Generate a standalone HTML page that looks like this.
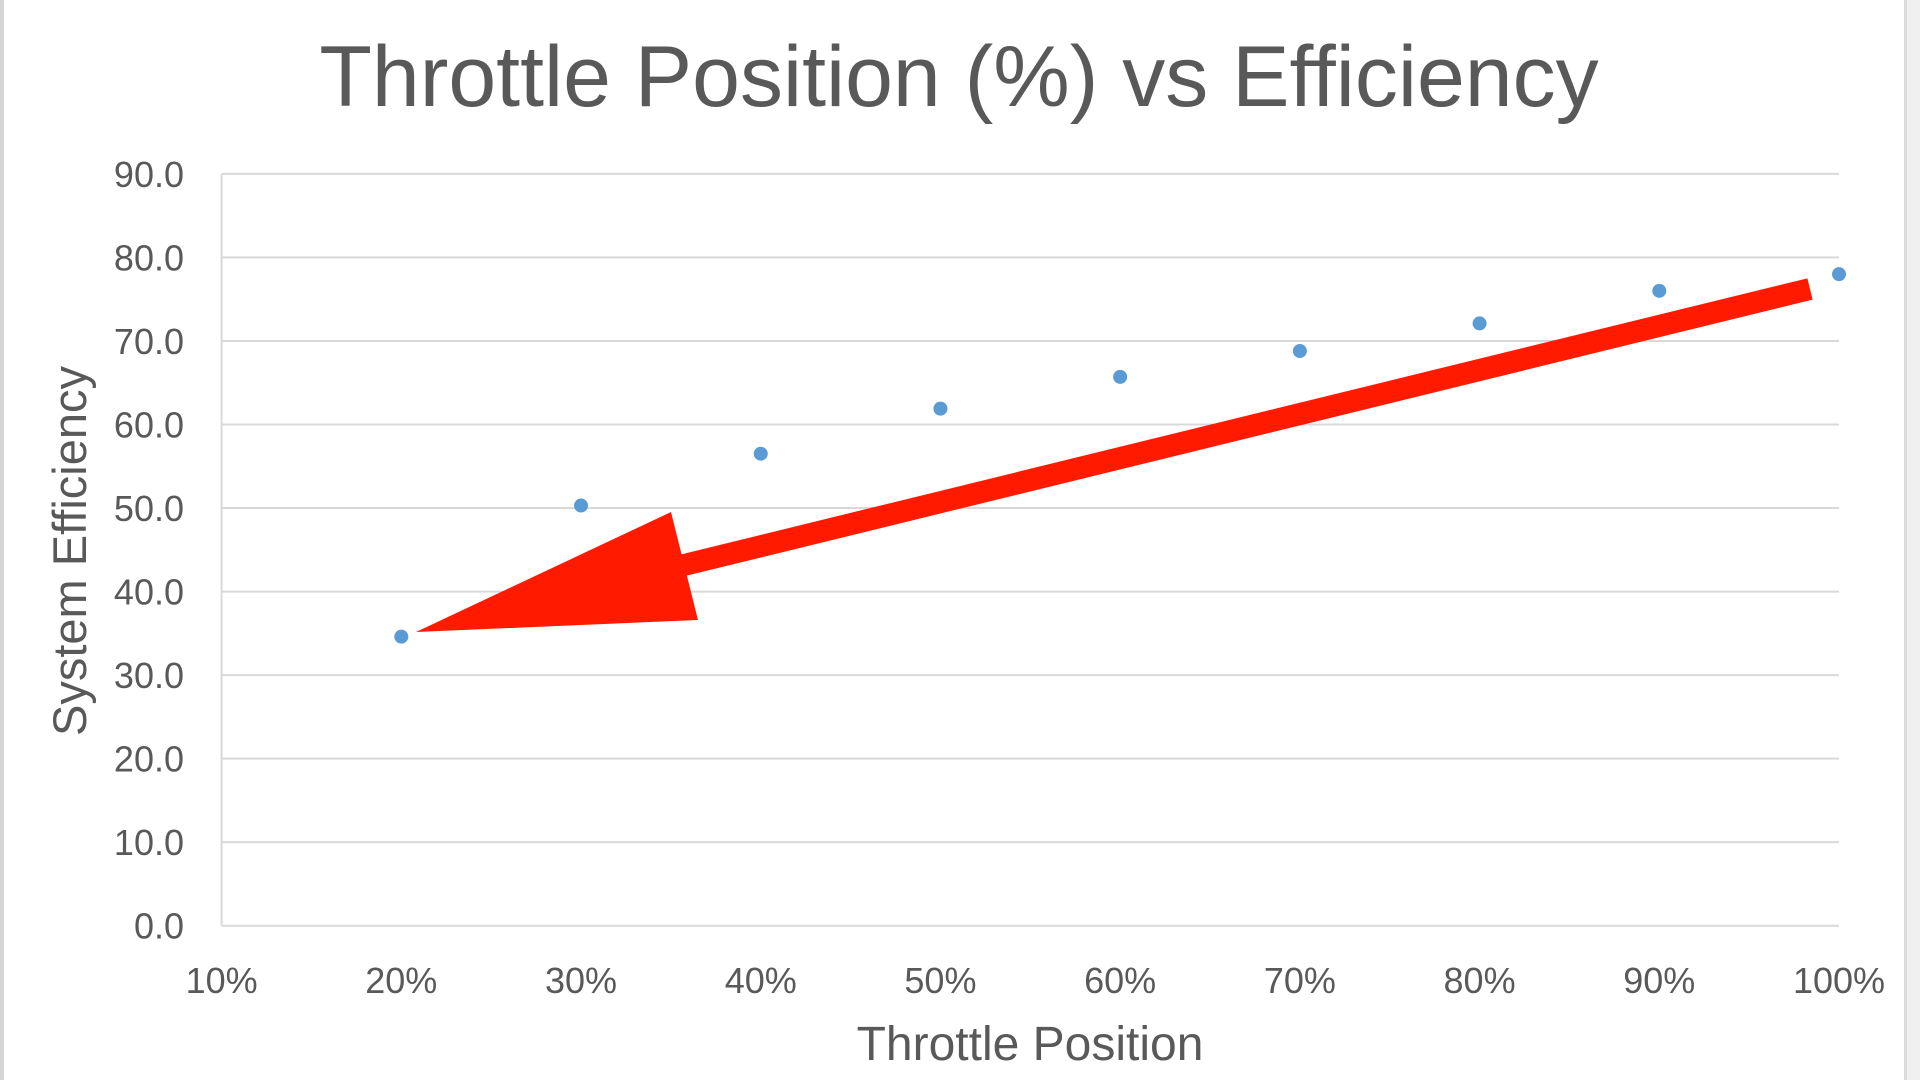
<!DOCTYPE html>
<html><head><meta charset="utf-8"><style>
html,body{margin:0;padding:0;background:#fff;}
body{width:1920px;height:1080px;overflow:hidden;position:relative;font-family:"Liberation Sans",sans-serif;}
</style></head><body>
<svg width="1920" height="1080" viewBox="0 0 1920 1080" id="chart" style="position:absolute;left:0;top:0">
<rect x="0" y="0" width="4" height="1080" fill="#d6d6d6"/>
<rect x="1904" y="0" width="16" height="1080" fill="#f0f0f0"/>
<rect x="1904" y="0" width="3" height="1080" fill="#dcdcdc"/>
<text x="959" y="106" text-anchor="middle" font-size="86" fill="#595959">Throttle Position (%) vs Efficiency</text>
<g id="grid"></g>
<g id="yt"></g>
<g id="xt"></g>
<g id="pts"></g>
<text x="1030" y="1060" text-anchor="middle" font-size="48" fill="#595959">Throttle Position</text>
<text transform="translate(86,551) rotate(-90)" text-anchor="middle" font-size="47" fill="#595959">System Efficiency</text>
<g>
<line x1="1810" y1="289" x2="680" y2="566" stroke="#ff1a00" stroke-width="22"/>
<polygon points="416,632 671,512 698,620" fill="#ff1a00"/>
</g>
</svg>
<script>
const xCategories=[20,30,40,50,60,70,80,90,100];
const efficiencyValues=[34.6,50.3,56.5,61.9,65.7,68.8,72.1,76.0,78.0];
const yTicks=[0,10,20,30,40,50,60,70,80,90];
const xTicks=[10,20,30,40,50,60,70,80,90,100];
const L=221.6,R=1839,B=925.7,T=173.9;
const xs=v=>L+(v-10)/90*(R-L);
const ys=v=>B-v/90*(B-T);
const NS="http://www.w3.org/2000/svg";
const grid=document.getElementById('grid'),yt=document.getElementById('yt'),xt=document.getElementById('xt'),pts=document.getElementById('pts');
yTicks.forEach(t=>{
  const l=document.createElementNS(NS,'line');
  l.setAttribute('x1',L);l.setAttribute('x2',R);l.setAttribute('y1',ys(t));l.setAttribute('y2',ys(t));
  l.setAttribute('stroke','#d9d9d9');l.setAttribute('stroke-width','2');
  
  
  grid.appendChild(l);
  const s=document.createElementNS(NS,'text');
  s.setAttribute('x',184);s.setAttribute('y',ys(t)+13);s.setAttribute('text-anchor','end');
  s.setAttribute('font-size','36');s.setAttribute('fill','#595959');
  s.textContent=t.toFixed(1);
  
  
  yt.appendChild(s);
});
const ax=document.createElementNS(NS,'line');
ax.setAttribute('x1',L);ax.setAttribute('x2',L);ax.setAttribute('y1',T);ax.setAttribute('y2',B);
ax.setAttribute('stroke','#d9d9d9');ax.setAttribute('stroke-width','2');


grid.appendChild(ax);
xTicks.forEach(t=>{
  const s=document.createElementNS(NS,'text');
  s.setAttribute('x',xs(t));s.setAttribute('y',993);s.setAttribute('text-anchor','middle');
  s.setAttribute('font-size','36');s.setAttribute('fill','#595959');
  s.textContent=t+'%';
  
  
  xt.appendChild(s);
});
xCategories.forEach((c,i)=>{
  const p=document.createElementNS(NS,'circle');
  p.setAttribute('cx',xs(c));p.setAttribute('cy',ys(efficiencyValues[i]));p.setAttribute('r','7');
  p.setAttribute('fill','#5b9bd5');
  
  
  pts.appendChild(p);
});
</script>
</body></html>
